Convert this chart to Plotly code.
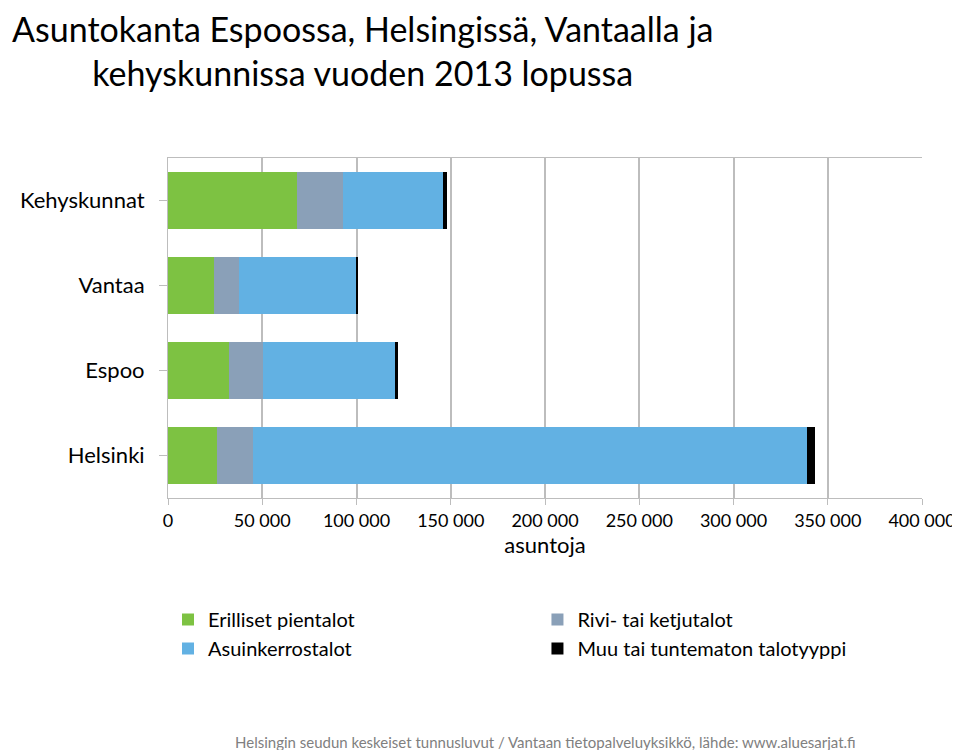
import plotly.graph_objects as go

categories = ["Helsinki", "Espoo", "Vantaa", "Kehyskunnat"]
erilliset = [26200, 32600, 24600, 68400]
rivi = [18700, 17600, 12800, 24500]
kerros = [294200, 70000, 62500, 52900]
muu = [4300, 1600, 500, 2100]
series = [("Erilliset pientalot", erilliset, "#7dc242", "legend"),
          ("Rivi- tai ketjutalot", rivi, "#8aa0b8", "legend2"),
          ("Asuinkerrostalot", kerros, "#62b1e3", "legend"),
          ("Muu tai tuntematon talotyyppi", muu, "#000000", "legend2")]
tickvals = list(range(0, 400001, 50000))
ticktext = ["0"] + [f"{v//1000} 000" for v in tickvals[1:]]

fig = go.Figure()
for name, vals, col, lg in series:
    fig.add_trace(go.Bar(y=categories, x=vals, name=name, orientation="h", legend=lg,
                         marker=dict(color=col, line=dict(width=0))))
leg = dict(yanchor="top", xanchor="left", traceorder="normal", font=dict(size=20),
           tracegroupgap=8, bgcolor="rgba(0,0,0,0)")
fig.update_layout(
    barmode="stack", bargap=0.34, width=960, height=750,
    paper_bgcolor="white", plot_bgcolor="white",
    font=dict(family="Lato, Open Sans, sans-serif", color="#000"),
    margin=dict(l=160, r=44, t=150, b=260),
    legend=dict(x=0.0, y=-0.3, **leg),
    legend2=dict(x=0.49, y=-0.3, **leg),
    xaxis=dict(range=[0, 400000], tickvals=tickvals, ticktext=ticktext,
               showgrid=True, gridcolor="#bdbdbd", gridwidth=1.5,
               showline=True, linecolor="#bdbdbd", mirror=True,
               ticks="outside", ticklen=6, tickcolor="#bdbdbd",
               tickfont=dict(size=18), zeroline=False,
               title=dict(text="asuntoja", font=dict(size=22), standoff=6)),
    yaxis=dict(showline=True, linecolor="#bdbdbd", ticks="outside", ticklen=8,
               tickcolor="#bdbdbd", tickfont=dict(size=22), ticklabelstandoff=10),
    annotations=[
        dict(text="Asuntokanta Espoossa, Helsingissä, Vantaalla ja<br>kehyskunnissa vuoden 2013 lopussa",
             x=0.005, xref="paper", xanchor="left", y=1, yref="paper", yshift=152,
             yanchor="top", showarrow=False, align="center", font=dict(size=34)),
        dict(text="Helsingin seudun keskeiset tunnusluvut / Vantaan tietopalveluyksikkö, lähde: www.aluesarjat.fi",
             x=0.5, xref="paper", xanchor="center", y=0, yref="paper", yshift=-255,
             yanchor="bottom", showarrow=False, font=dict(size=15, color="#808080"))],
)
fig.update_annotations(selector=dict(font_size=34), x=-0.21, xanchor="left")
fig.write_html("out.html")
